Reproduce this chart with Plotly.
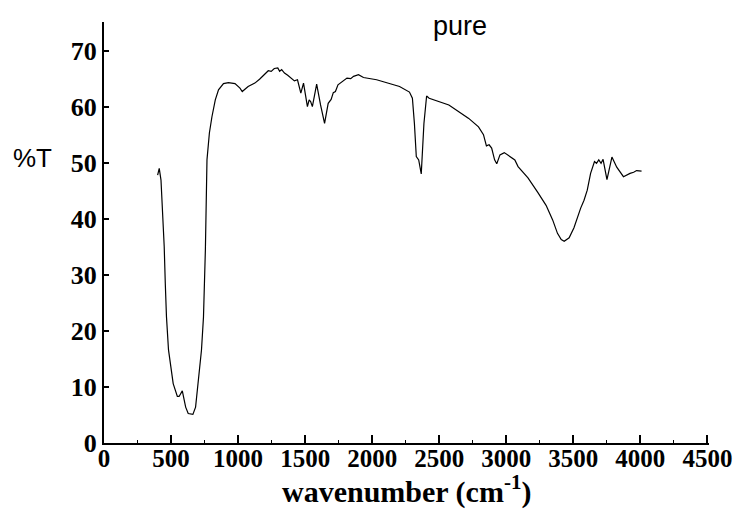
import plotly.graph_objects as go

# FTIR spectrum "pure"
wavenumber = [400, 412, 425, 437, 449, 457, 466, 481, 516, 547, 560, 584, 609, 628, 663, 683, 700, 727,
              742, 749, 756, 768, 786, 805, 830, 854, 891, 928, 977, 1014, 1031, 1075, 1125, 1160, 1198,
              1225, 1247, 1270, 1296, 1310, 1325, 1346, 1370, 1394, 1420, 1443, 1468, 1488, 1517, 1530,
              1541, 1554, 1586, 1615, 1645, 1672, 1694, 1710, 1726, 1745, 1762, 1790, 1812, 1840, 1861,
              1898, 1935, 2033, 2131, 2204, 2278, 2300, 2315, 2329, 2347, 2366, 2386, 2406, 2425, 2499,
              2572, 2646, 2720, 2793, 2830, 2852, 2872, 2891, 2913, 2929, 2953, 2985, 3064, 3088, 3162,
              3235, 3297, 3346, 3382, 3410, 3432, 3469, 3505, 3555, 3580, 3604, 3629, 3658, 3673, 3690,
              3707, 3722, 3751, 3788, 3824, 3874, 3900, 3923, 3950, 3972, 4009]
transmittance = [47.8, 49.0, 46.9, 41.5, 35.0, 28.5, 22.5, 16.6, 10.6, 8.3, 8.3, 9.3, 6.4, 5.25, 5.1, 6.4,
                 10.6, 16.6, 22.5, 28.5, 34.4, 50.5, 55.3, 58.2, 61.2, 63.0, 64.1, 64.3, 64.1, 63.3, 62.7,
                 63.6, 64.2, 64.9, 65.7, 66.4, 66.3, 66.8, 66.9, 66.3, 66.6, 66.0, 65.6, 65.1, 64.6, 64.8,
                 62.4, 64.2, 60.0, 61.2, 60.9, 60.0, 64.0, 60.3, 57.0, 60.6, 61.3, 62.5, 62.7, 63.9, 64.2,
                 64.6, 65.1, 65.0, 65.4, 65.7, 65.2, 64.8, 64.1, 63.6, 62.6, 61.5, 57.0, 51.1, 50.5, 48.0,
                 57.0, 61.9, 61.5, 60.9, 60.3, 59.1, 57.9, 56.4, 55.0, 53.0, 53.2, 52.6, 50.5, 49.8, 51.4,
                 51.8, 50.5, 49.3, 47.3, 44.7, 42.4, 39.8, 37.4, 36.3, 36.0, 36.6, 38.4, 41.9, 43.3, 45.1,
                 48.1, 50.2, 49.9, 50.5, 49.9, 50.6, 47.0, 51.0, 49.2, 47.5, 47.9, 48.1, 48.3, 48.6, 48.5]

x_ticks = [0, 500, 1000, 1500, 2000, 2500, 3000, 3500, 4000, 4500]
y_ticks = [0, 10, 20, 30, 40, 50, 60, 70]

fig = go.Figure()
fig.add_trace(go.Scatter(x=wavenumber, y=transmittance, mode="lines",
                         line=dict(color="black", width=1.2), showlegend=False,
                         hoverinfo="skip"))

fig.update_layout(
    width=744, height=512,
    margin=dict(l=104, r=28, t=22, b=69),
    paper_bgcolor="white", plot_bgcolor="white",
    xaxis=dict(range=[0, 4512], tickvals=x_ticks, ticks="inside", ticklen=8, tickwidth=1.5,
               tickcolor="black", showline=True, linecolor="black", linewidth=2,
               showgrid=False, zeroline=False, ticklabelstandoff=-8,
               minor=dict(dtick=250, tick0=0, ticks="inside", ticklen=3, tickcolor="black", tickwidth=1),
               tickfont=dict(family="Liberation Serif", size=25, color="black", weight="bold")),
    yaxis=dict(range=[0, 75.1], tickvals=y_ticks, ticks="inside", ticklen=5, tickwidth=1.5,
               tickcolor="black", showline=True, linecolor="black", linewidth=2,
               showgrid=False, zeroline=False,
               tickfont=dict(family="Liberation Serif", size=26, color="black", weight="bold")),
    annotations=[
        dict(text="<b>wavenumber (cm<sup>-1</sup>)</b>", xref="paper", yref="paper",
             x=0.5, y=-0.162, xanchor="center", yanchor="bottom", showarrow=False,
             font=dict(family="Liberation Serif", size=30, color="black")),
        dict(text="%T", xref="paper", yref="paper", x=-0.118, y=0.677,
             xanchor="center", yanchor="middle", showarrow=False,
             font=dict(family="Liberation Sans", size=26, color="black")),
        dict(text="pure", xref="paper", yref="paper", x=0.589, y=0.99,
             xanchor="center", yanchor="middle", showarrow=False,
             font=dict(family="Liberation Sans", size=27, color="black")),
    ],
)

fig.write_html("out.html")
